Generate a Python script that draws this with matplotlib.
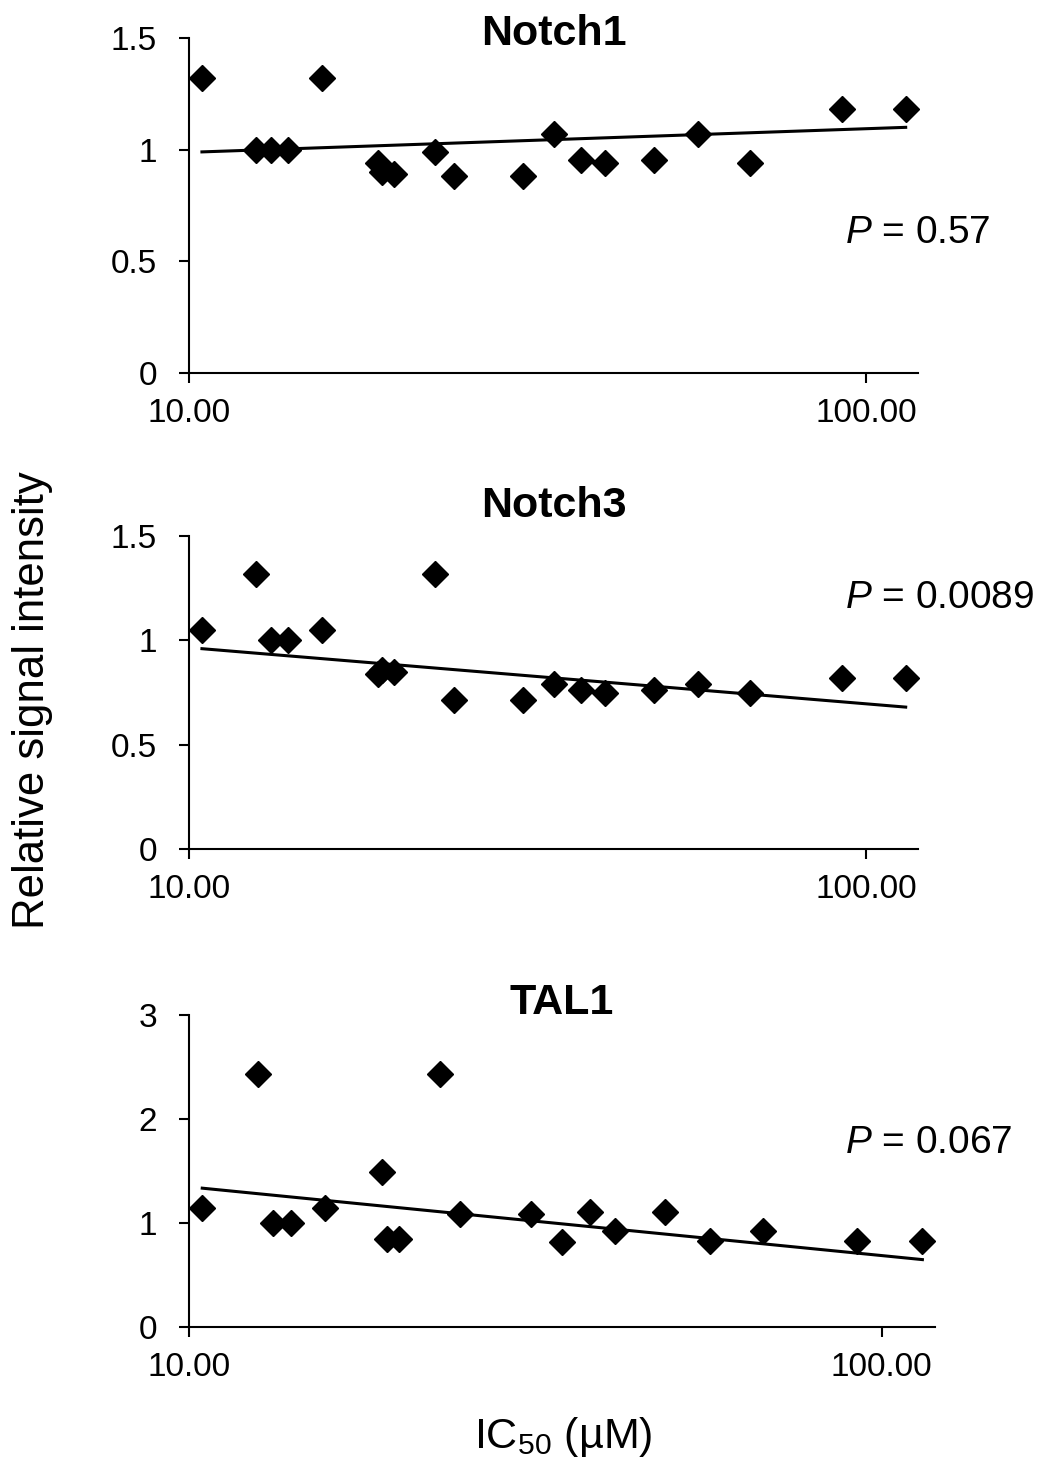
import matplotlib
matplotlib.use('Agg')
import matplotlib.pyplot as plt

plt.rcParams['font.family'] = ['Liberation Sans', 'DejaVu Sans']
plt.rcParams['mathtext.fontset'] = 'custom'
plt.rcParams['mathtext.rm'] = 'Liberation Sans'
plt.rcParams['mathtext.it'] = 'Liberation Sans:italic'

# IC50 (uM) of the samples, same for all three panels
ic50 = [10.45, 12.56, 13.23, 14.02, 15.74, 19.0, 19.3, 20.1, 23.07, 24.6,
        31.2, 34.6, 37.95, 41.2, 48.7, 56.5, 67.5, 92.1, 114.5]

notch1 = [1.32, 1.00, 1.00, 1.00, 1.32, 0.94, 0.90, 0.89, 0.99, 0.88,
          0.88, 1.07, 0.955, 0.94, 0.955, 1.07, 0.94, 1.18, 1.18]
notch3 = [1.05, 1.32, 1.00, 1.00, 1.05, 0.84, 0.86, 0.85, 1.32, 0.715,
          0.715, 0.79, 0.76, 0.747, 0.76, 0.79, 0.747, 0.82, 0.82]
tal1 = [1.14, 2.43, 1.00, 1.00, 1.14, 1.49, 0.85, 0.85, 2.43, 1.09,
        1.09, 0.816, 1.11, 0.92, 1.11, 0.823, 0.92, 0.823, 0.83]

# trendline values at the first and last IC50, as drawn in the figure
trend1 = [0.99, 1.10]
trend3n = [0.96, 0.68]
trend_tal = [1.335, 0.648]

titles = ['Notch1', 'Notch3', 'TAL1']
pvals = ['0.57', '0.0089', '0.067']
ymaxs = [1.5, 1.5, 3]
yticks = [[0, 0.5, 1, 1.5], [0, 0.5, 1, 1.5], [0, 1, 2, 3]]
ytlabels = [['0', '0.5', '1', '1.5'], ['0', '0.5', '1', '1.5'], ['0', '1', '2', '3']]

W, H = 1039, 1459
fig = plt.figure(figsize=(W / 100, H / 100), dpi=100)

# axes boxes in pixels: left, top, right, bottom
boxes = [(189, 38, 918, 373), (189, 536, 918, 849), (189, 1015, 935, 1327)]
title_base = [45, 517, 1014]
p_base = [243, 608, 1153]

series = [notch1, notch3, tal1]
trends = [trend1, trend3n, trend_tal]
for i, ys in enumerate(series):
    l, t, r, b = boxes[i]
    ax = fig.add_axes([l / W, 1 - b / H, (r - l) / W, (b - t) / H])
    ax.set_xscale('log')
    ax.set_xlim(10, 119.4)
    ax.set_ylim(0, ymaxs[i])

    ax.plot(ic50, ys, 'D', color='black', markersize=13, clip_on=False)
    ax.plot([ic50[0], ic50[-1]], trends[i], color='black', linewidth=2.2)

    ax.set_xticks([10, 100])
    ax.set_xticklabels(['10.00', '100.00'])
    ax.xaxis.set_minor_locator(matplotlib.ticker.NullLocator())
    ax.set_yticks(yticks[i])
    ax.set_yticklabels(ytlabels[i])
    ax.tick_params(labelsize=24, width=1.5, length=7, direction='out')
    ax.tick_params(axis='x', pad=11)
    ax.tick_params(axis='y', pad=16)
    for s in ['top', 'right']:
        ax.spines[s].set_visible(False)
    for s in ['left', 'bottom']:
        ax.spines[s].set_linewidth(1.5)

    fig.text((l + r) / 2 / W, 1 - title_base[i] / H, titles[i], ha='center',
             va='baseline', fontsize=31, fontweight='bold')
    fig.text(845 / W, 1 - p_base[i] / H, r'$\it{P}$ = ' + pvals[i],
             ha='left', va='baseline', fontsize=28)

fig.text(33 / W, 1 - 700 / H, 'Relative signal intensity', rotation=90,
         ha='center', va='center', fontsize=31.5)
fig.text(563 / W, 1 - 1437 / H, 'IC$_{50}$ (µM)', ha='center',
         va='center', fontsize=31)

plt.savefig('out.png', dpi=100)
